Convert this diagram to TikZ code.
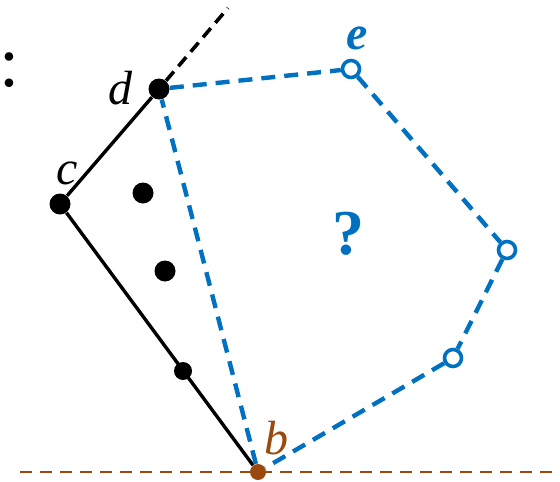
\documentclass[tikz,border=0pt]{standalone}
\usepackage{fontspec}
\setmainfont{Liberation Serif}
\usepackage{tikz}
\usetikzlibrary{positioning,calc}
\definecolor{HullBlue}{HTML}{0070C0}
\definecolor{BaseBrown}{HTML}{9A4A0C}

\begin{document}
\begin{tikzpicture}[
  x=0.5pt, y=-0.5pt,
  dot/.style={circle, fill=black, inner sep=0pt, minimum size=10.5pt},
  smalldot/.style={circle, fill=black, inner sep=0pt, minimum size=9pt},
  opendot/.style={circle, draw=HullBlue, fill=white, line width=1.8pt, inner sep=0pt, minimum size=8.5pt},
  basedot/.style={circle, fill=BaseBrown, inner sep=0pt, minimum size=8pt},
  hull/.style={black, line width=1.7pt},
  guess/.style={HullBlue, line width=2.2pt, dash pattern=on 7pt off 4.5pt},
  ray/.style={black, line width=1.8pt, dash pattern=on 6pt off 3.5pt},
  base/.style={BaseBrown, line width=1pt, dash pattern=on 6pt off 4pt},
  lbl/.style={font=\fontsize{24}{27}\selectfont\itshape}
]
\useasboundingbox (0,0) rectangle (560,481);
% base line through b
\coordinate (baseL) at (20,472);
\coordinate (baseR) at (556,472);
\draw[base] (baseL) -- (baseR);
% points
\node[basedot] (ptB) at (258,472) {};
\node[dot] (ptC) at (60,204) {};
\node[dot] (ptD) at (159,89) {};
\node[opendot] (ptE) at (351,69) {};
\node[opendot] (ptF) at (507,250) {};
\node[opendot] (ptG) at (453,358) {};
\node[dot] (in1) at (143,193) {};
\node[dot] (in2) at (165,271) {};
\node[smalldot] (in3) at (183,371) {};
\coordinate (rayEnd) at (228,8);
% hull so far
\draw[hull] (ptD) -- (ptC) -- (ptB);
\draw[ray] (ptD) -- (rayEnd);
% unknown part
\draw[guess] (ptD) -- (ptE);
\draw[guess] (ptE) -- (ptF);
\draw[guess] (ptF) -- (ptG);
\draw[guess] (ptG) -- (ptB);
\draw[guess] (ptB) -- (ptD);
% labels
\node[lbl] (lblD) at (120,88) {d};
\node[lbl] (lblC) at (67,173) {c};
\node[lbl, text=HullBlue, font=\fontsize{24}{27}\selectfont\bfseries\itshape] (lblE) at (357,38) {e};
\node[lbl, text=BaseBrown] (lblB) at (276,438) {b};
\node[text=HullBlue, font=\fontsize{32}{36}\selectfont\bfseries] (qm) at (348,234) {?};
\node[font=\fontsize{36}{40}\selectfont] (colon) at (10,70) {:};
\end{tikzpicture}
\end{document}
